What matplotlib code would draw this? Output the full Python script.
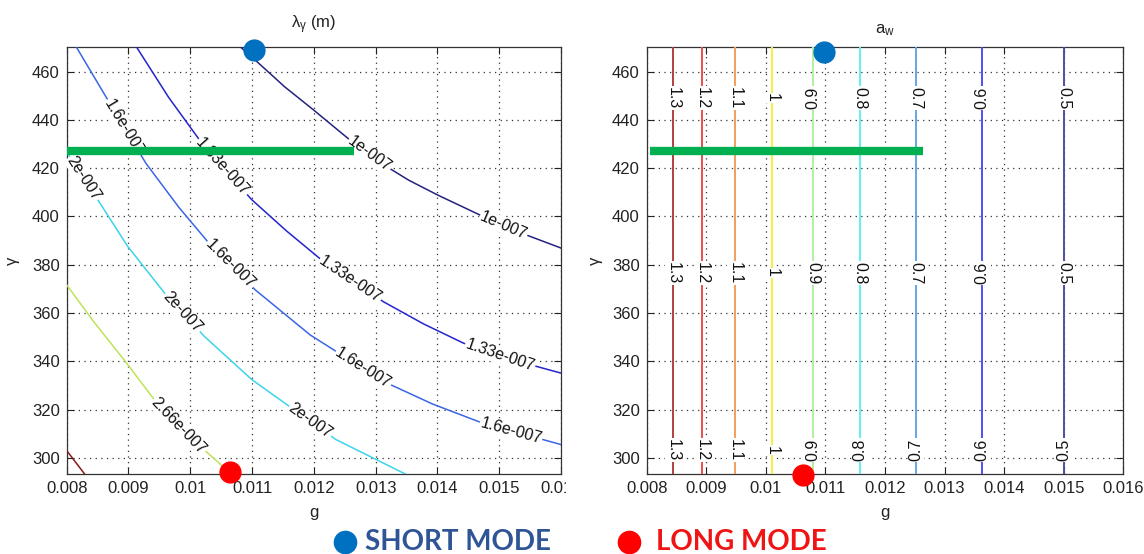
import numpy as np
import matplotlib
matplotlib.use("Agg")
import matplotlib.pyplot as plt
from matplotlib.lines import Line2D
from matplotlib.transforms import Bbox, TransformedBbox

plt.rcParams['font.family'] = ['Liberation Sans', 'DejaVu Sans']
plt.rcParams['mathtext.fontset'] = 'custom'
plt.rcParams['mathtext.rm'] = 'Liberation Sans'
plt.rcParams['mathtext.it'] = 'Liberation Sans'

# ---------------- data ----------------
x_ticks = [0.008, 0.009, 0.010, 0.011, 0.012, 0.013, 0.014, 0.015, 0.016]
x_tick_labels = ['0.008', '0.009', '0.01', '0.011', '0.012', '0.013', '0.014', '0.015', '0.016']
y_ticks = [300, 320, 340, 360, 380, 400, 420, 440, 460]

# left panel: lambda_gamma contour lines (g, gamma)
lam_1e7_g = [0.01082, 0.011114, 0.011527, 0.0120, 0.012591, 0.013123, 0.013536, 0.014009, 0.014777, 0.015368, 0.016]
lam_1e7_y = [470.0, 463.3, 453.7, 444.0, 431.5, 421.5, 415.0, 408.8, 399.5, 393.0, 386.9]
lam_133e7_g = [0.009134, 0.00965, 0.010228, 0.010996, 0.011557, 0.012118, 0.013123, 0.013773, 0.014422, 0.015211, 0.016]
lam_133e7_y = [470.0, 449.3, 428.9, 406.9, 394.0, 382.1, 364.7, 355.5, 347.5, 340.6, 335.1]
lam_16e7_g = [0.00816, 0.00878, 0.009282, 0.009814, 0.010346, 0.011055, 0.011941, 0.013123, 0.01392, 0.014718, 0.016]
lam_16e7_y = [470.0, 443.3, 422.0, 403.8, 387.6, 369.5, 350.9, 331.7, 322.3, 314.5, 305.5]
lam_2e7_g = [0.008, 0.008573, 0.008987, 0.009607, 0.010228, 0.010996, 0.012355, 0.013418, 0.01348]
lam_2e7_y = [426.8, 404.1, 387.6, 367.5, 350.3, 332.4, 307.6, 294.1, 293.3]
lam_266e7_g = [0.008, 0.008455, 0.008928, 0.009459, 0.00996, 0.010464, 0.01065]
lam_266e7_y = [371.6, 355.8, 340.6, 322.7, 309.3, 297.9, 293.3]
lam_top_g = [0.008, 0.00829]
lam_top_y = [303.0, 293.3]

lam_lines = [(lam_1e7_g, lam_1e7_y), (lam_133e7_g, lam_133e7_y), (lam_16e7_g, lam_16e7_y),
             (lam_2e7_g, lam_2e7_y), (lam_266e7_g, lam_266e7_y), (lam_top_g, lam_top_y)]
lam_colors = ['#23237e', '#2424cc', '#3a66e6', '#3cd4ea', '#bde35a', '#8a1a1a']

# contour labels: (line index, g position, text)
lam_labels = [(2, 0.00893, '1.6e-007'), (1, 0.010523, '1.33e-007'), (0, 0.01290, '1e-007'),
              (3, 0.008278, '2e-007'), (0, 0.015072, '1e-007'), (2, 0.010641, '1.6e-007'),
              (1, 0.012591, '1.33e-007'), (1, 0.015013, '1.33e-007'), (3, 0.009873, '2e-007'),
              (2, 0.012798, '1.6e-007'), (3, 0.011941, '2e-007'), (2, 0.015191, '1.6e-007'),
              (4, 0.009814, '2.66e-007')]

# right panel: a_w contour lines (vertical)
aw_levels = ['1.3', '1.2', '1.1', '1', '0.9', '0.8', '0.7', '0.6', '0.5']
aw_g = [0.008448, 0.008932, 0.009490, 0.010103, 0.010789, 0.011586, 0.012518, 0.013634, 0.015007]
aw_colors = ['#b04040', '#e85050', '#f0a060', '#f6f040', '#b0f0a0', '#60f0f0', '#60a8e8', '#5050f0', '#50509c']
aw_label_y = [449.1, 376.6, 303.2]
aw_label_rot = [[-90, -90, -90, -90, 90, -90, -90, 90, -90],
                [-90, -90, -90, -90, -90, -90, -90, 90, -90],
                [-90, -90, -90, -90, 90, 90, 90, 90, 90]]

# operating points and green bar
short_g = [0.011025, 0.010973]
short_y = [468.8, 468.1]
long_g = [0.010641, 0.010624]
long_y = [294.1, 292.8]
bar_g = [(0.0080, 0.01265), (0.008061, 0.012641)]
bar_y = 427.2

ylim = (293.3, 470.3)

# ---------------- figure ----------------
W, H = 1144, 554
fig = plt.figure(figsize=(W / 100, H / 100), dpi=100)
axL = fig.add_axes([66.7 / W, 1 - 474 / H, (561 - 66.7) / W, (474 - 46.7) / H])
axR = fig.add_axes([646.7 / W, 1 - 474 / H, (1123.3 - 646.7) / W, (474 - 46.7) / H])

for ax in (axL, axR):
    ax.set_xlim(0.008, 0.016)
    ax.set_ylim(*ylim)
    ax.set_xticks(x_ticks)
    ax.set_xticklabels(x_tick_labels)
    ax.set_yticks(y_ticks)
    ax.tick_params(direction='in', top=True, right=True, length=5, width=0.8,
                   labelsize=12, colors='#222222', pad=5)
    ax.grid(True, color='#333333', linestyle=(0, (1, 3.5)), linewidth=0.9)
    for sp in ax.spines.values():
        sp.set_color('#333333')
        sp.set_linewidth(0.9)
    ax.set_xlabel('g', fontsize=12, color='#222222')
    ax.xaxis.set_label_coords(0.5, -0.072)
    ax.set_ylabel('γ', fontsize=12, color='#222222')

axL.yaxis.set_label_coords(-0.094, 0.5)
axR.yaxis.set_label_coords(-0.092, 0.5)
axL.set_title(r'$\lambda_{\gamma}$ (m)', fontsize=12, color='#222222', pad=13)
axR.set_title(r'$\mathregular{a_w}$', fontsize=12, color='#222222', pad=10)

# left contour lines
for (gx, gy), c in zip(lam_lines, lam_colors):
    axL.plot(gx, gy, color=c, lw=1.1, zorder=3)

fig.canvas.draw()
for idx, gpos, txt in lam_labels:
    gx, gy = lam_lines[idx]
    ypos = np.interp(gpos, gx, gy)
    d = 0.00012
    p1 = axL.transData.transform((gpos - d, np.interp(gpos - d, gx, gy)))
    p2 = axL.transData.transform((gpos + d, np.interp(gpos + d, gx, gy)))
    ang = np.degrees(np.arctan2(p2[1] - p1[1], p2[0] - p1[0]))
    axL.text(gpos, ypos, txt, rotation=ang, rotation_mode='anchor', ha='center', va='center',
             fontsize=11.5, color='#111111', zorder=4,
             bbox=dict(fc='white', ec='none', pad=0.6))

# right contour lines
for gv, c in zip(aw_g, aw_colors):
    axR.plot([gv, gv], list(ylim), color=c, lw=1.4, zorder=3)
for ly, rots in zip(aw_label_y, aw_label_rot):
    for gv, lab, r in zip(aw_g, aw_levels, rots):
        axR.text(gv, ly, lab, rotation=r, ha='center', va='center', fontsize=11.5,
                 color='#111111', zorder=4, bbox=dict(fc='white', ec='none', pad=0.6))

# green bars and mode markers
for ax, (g0, g1), sg, sy, lg, ly in zip((axL, axR), bar_g, short_g, short_y, long_g, long_y):
    ax.plot([g0, g1], [bar_y, bar_y], color='#00b050', lw=6, solid_capstyle='butt', zorder=6)
    ax.plot([sg], [sy], 'o', ms=15, color='#0070c0', mec='#0070c0', zorder=7, clip_on=False)
    ax.plot([lg], [ly], 'o', ms=15, color='#ff0000', mec='#ff0000', zorder=7, clip_on=False)

# clip the last left tick label as in the reference
lbl = axL.get_xticklabels()[-1]
lbl.set_clip_on(True)
lbl.set_clip_box(TransformedBbox(Bbox([[0, 0], [566 / W, 1]]), fig.transFigure))

# bottom legend
yl = 1 - 541.5 / H
fig.add_artist(Line2D([344.7 / W], [yl], marker='o', ms=16, color='#0070c0', transform=fig.transFigure))
fig.text(365 / W, yl, 'SHORT MODE', color='#2f5597', fontsize=20, fontweight='bold',
         family=['Lato', 'DejaVu Sans'], ha='left', va='center')
fig.add_artist(Line2D([628.8 / W], [yl], marker='o', ms=16, color='#ff0000', transform=fig.transFigure))
fig.text(656 / W, yl, 'LONG MODE', color='#f01515', fontsize=20, fontweight='bold',
         family=['Lato', 'DejaVu Sans'], ha='left', va='center')

fig.savefig('out.png', dpi=100)
